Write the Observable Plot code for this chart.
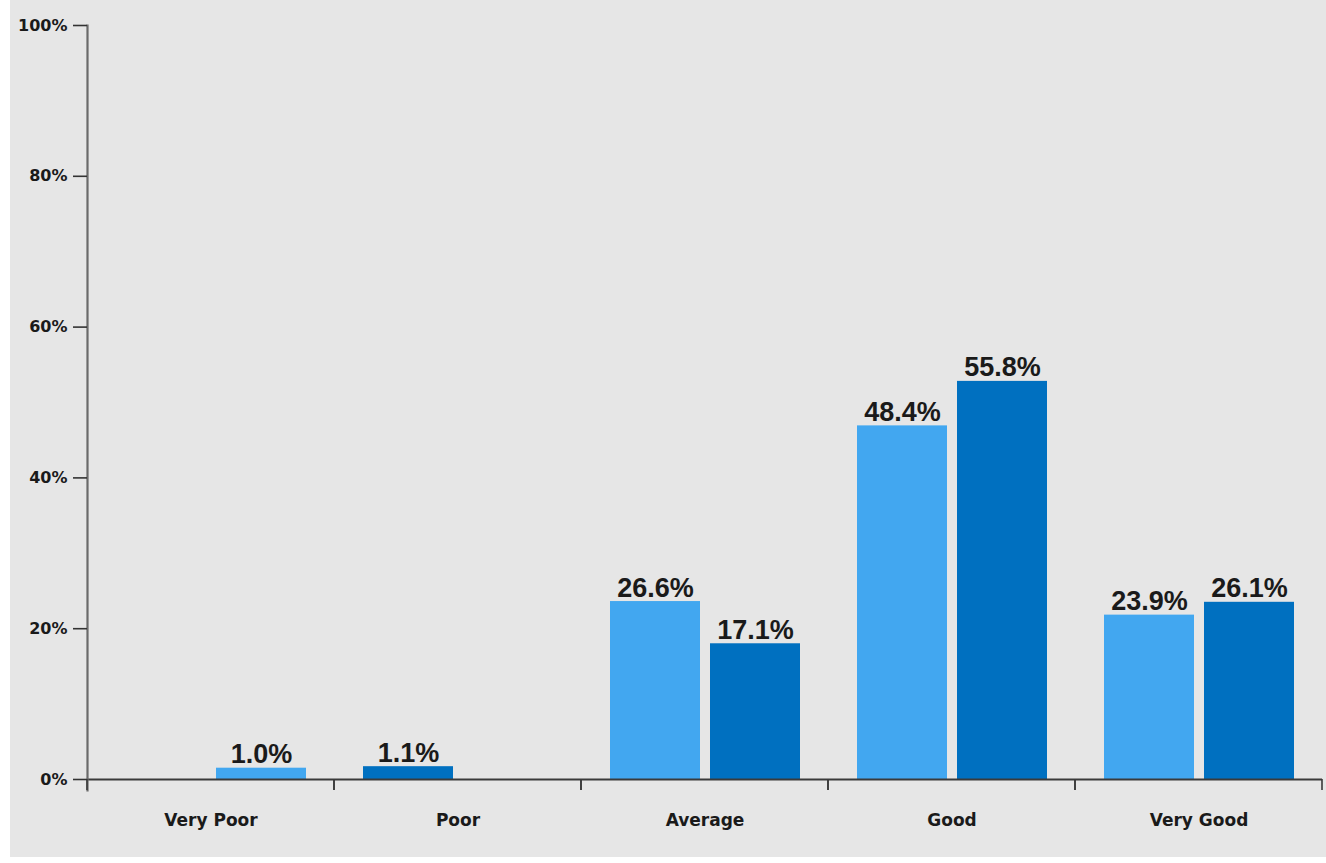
<!DOCTYPE html>
<html>
<head>
<meta charset="utf-8">
<script src="https://cdn.jsdelivr.net/npm/d3@7"></script>
<script src="https://cdn.jsdelivr.net/npm/@observablehq/plot@0.6"></script>
<style>
  html, body { margin: 0; padding: 0; background: #ffffff; }
  #panel { position: absolute; left: 10px; top: 0; width: 1316px; height: 857px; background: #e6e6e6; box-shadow: -4px 0 6px rgba(255,255,255,0.9); }
  #panel svg { display: block; background: transparent; }
</style>
</head>
<body>
<div id="panel"></div>
<script>
// ---- data ----
const categories = ["Very Poor", "Poor", "Average", "Good", "Very Good"];
const slots = ["left", "right"];
const yTicks = [0, 20, 40, 60, 80, 100];

// light-blue series: bar heights (as drawn), slot within group, printed labels
const lightValues = [1.5, null, 23.6, 46.9, 21.8];
const lightSlots  = ["right", null, "left", "left", "left"];
const lightLabels = ["1.0%", null, "26.6%", "48.4%", "23.9%"];

// dark-blue series
const darkValues = [null, 1.7, 18.0, 52.8, 23.5];
const darkSlots  = [null, "left", "right", "right", "right"];
const darkLabels = [null, "1.1%", "17.1%", "55.8%", "26.1%"];

const seriesNames = ["light", "dark"];
const seriesColors = ["#42a7f0", "#0070c0"];

// ---- build table ----
const rows = [];
categories.forEach((c, i) => {
  if (lightValues[i] != null) rows.push({cat: c, slot: lightSlots[i], series: "light", value: lightValues[i], label: lightLabels[i]});
  if (darkValues[i] != null) rows.push({cat: c, slot: darkSlots[i], series: "dark", value: darkValues[i], label: darkLabels[i]});
});

const axisFont = "'DejaVu Sans', Verdana, sans-serif";
const labelFont = "'Liberation Sans Narrow', 'Arial Narrow', 'Liberation Sans', Arial, sans-serif";

// short group-boundary ticks below the baseline, drawn in each facet
function boundaryTicks(index, scales, values, dims) {
  const {width, height, marginLeft, marginRight, marginBottom} = dims;
  const y0 = height - marginBottom;
  const g = d3.create("svg:g").attr("stroke", "#3a3a3a").attr("stroke-width", 1.6);
  for (const x of [marginLeft, width - marginRight]) {
    g.append("line").attr("x1", x).attr("x2", x).attr("y1", y0).attr("y2", y0 + 11);
  }
  return g.node();
}

const chart = Plot.plot({
  width: 1316,
  height: 857,
  marginLeft: 76,
  marginRight: 4,
  marginTop: 25,
  marginBottom: 78,
  style: {background: "transparent", color: "#1a1a1a"},
  fx: {domain: categories, padding: 0, label: null},
  x: {domain: slots, paddingInner: 0.1, paddingOuter: 0.28, axis: null},
  y: {domain: [0, 100], label: null},
  color: {domain: seriesNames, range: seriesColors},
  marks: [
    Plot.barY(rows, {fx: "cat", x: "slot", y: "value", fill: "series"}),
    Plot.ruleY([0], {stroke: "#3a3a3a", strokeWidth: 2}),
    Plot.frame({anchor: "left", facetAnchor: "left", stroke: "#6a6a6a", strokeWidth: 2.2, insetBottom: -11}),
    boundaryTicks,
    Plot.text(rows, {
      fx: "cat", x: "slot", y: "value", text: "label",
      lineAnchor: "bottom", dy: -5,
      fontSize: 27, fontWeight: "bold", fontFamily: labelFont, fill: "#1a1a1a"
    }),
    Plot.axisY({
      ticks: yTicks, tickFormat: d => d + "%", tickSize: 14, tickPadding: 6,
      label: null, fontSize: 16, fontWeight: "bold", fontFamily: axisFont,
      stroke: "#333", strokeWidth: 1.6
    }),
    Plot.axisFx({
      anchor: "bottom", tickSize: 0, tickPadding: 34, label: null,
      fontSize: 17, fontWeight: "bold", fontFamily: axisFont
    })
  ]
});

document.getElementById("panel").appendChild(chart);
</script>
</body>
</html>
